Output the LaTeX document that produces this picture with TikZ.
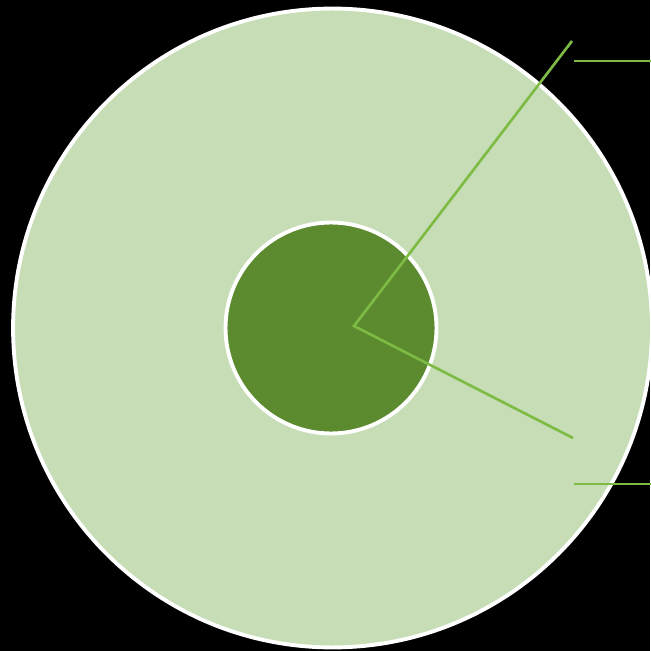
\documentclass[tikz,border=0pt]{standalone}
\definecolor{pale}{HTML}{C6DDB6}
\definecolor{deep}{HTML}{5B8A2F}
\definecolor{leaf}{HTML}{7DBB44}
\usetikzlibrary{positioning}

\begin{document}
\begin{tikzpicture}[
        x=0.02cm, y=-0.02cm,
        disc/.style = {circle, draw=white, line width=2.2pt, inner sep=0pt},
        pointer/.style = {leaf, line width=1.5pt}
    ]
    \fill[black] (0,0) rectangle (650,651);
    \useasboundingbox (0,0) rectangle (650,651);

    \node[disc, fill=pale, minimum size=12.78cm] (outer) at (332.5,328) {};
    \node[disc, fill=deep, minimum size=4.22cm] (core) at (331,328) {};

    \coordinate (hub) at (354,326);
    \coordinate (tipA) at (572,41);
    \coordinate (tipB) at (573,438);
    \coordinate (barA) at (574,61);
    \coordinate (barB) at (574,484);

    \draw[pointer] (tipA) -- (hub) -- (tipB);
    \draw[pointer] (barA) -- +(80,0);
    \draw[pointer] (barB) -- +(80,0);

\end{tikzpicture}
\end{document}
